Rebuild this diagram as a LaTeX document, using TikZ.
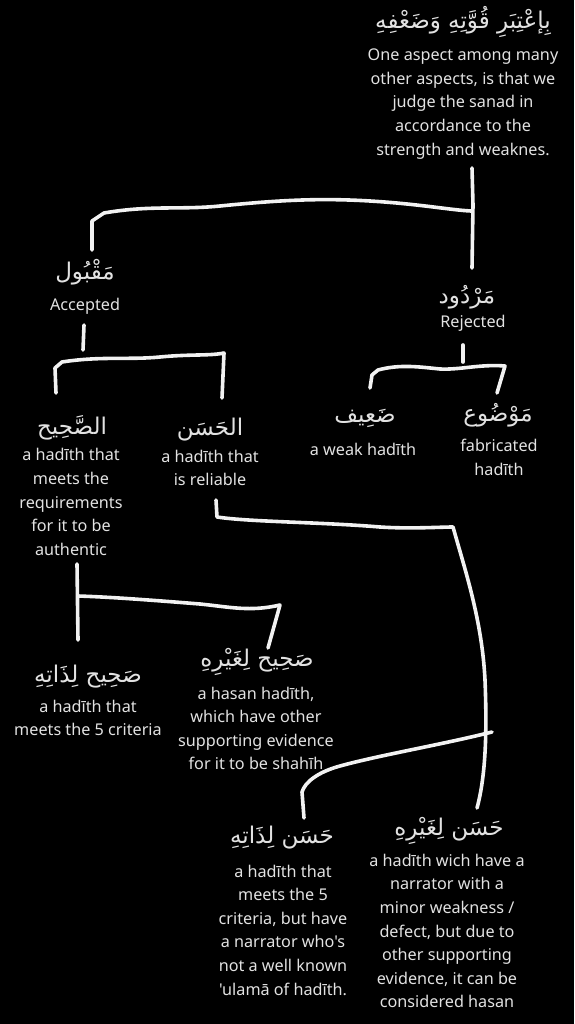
\documentclass[tikz,border=0pt]{standalone}
\usepackage{fontspec}
\setmainfont{Noto Sans}[Ligatures=TeXOff]
\newfontfamily\arabicfont[Script=Arabic]{DejaVu Sans}
\TeXXeTstate=1
\definecolor{txt}{HTML}{E2E2E2}
\definecolor{ink}{HTML}{F2F2F2}
\tikzset{
  desc/.style={text=txt, align=center, font=\fontsize{16.2}{23.6}\selectfont, inner sep=0pt},
  ar/.style={text=txt, font=\arabicfont\fontsize{23}{26}\selectfont, inner sep=0pt},
  hand/.style={draw=ink, line width=3.6pt, line cap=round, line join=round},
}
\begin{document}
\begin{tikzpicture}[x=1pt,y=-1pt]
\fill[black] (0,0) rectangle (574,1024);
\useasboundingbox (0,0) rectangle (574,1024);

% texts
\node[ar] (root) at (463,22) {\beginR بِإعْتِبَرِ قُوَّتِهِ وَضَعْفِهِ\endR};
\node[desc] (rootd) at (463,104) {One aspect among many\\other aspects, is that we\\judge the sanad in\\accordance to the\\strength and weaknes.};

\node[ar] (maq) at (85,272) {\beginR مَقْبُول\endR};
\node[desc] (maqd) at (85,306) {Accepted};
\node[ar] (mar) at (467,297) {\beginR مَرْدُود\endR};
\node[desc] (mard) at (473,323) {Rejected};

\node[ar] (sah) at (72,428) {\beginR الصَّحِيح\endR};
\node[desc] (sahd) at (71,502) {a hadīth that\\meets the\\requirements\\for it to be\\authentic};
\node[ar] (has) at (210,430) {\beginR الحَسَن\endR};
\node[desc] (hasd) at (210,468) {a hadīth that\\is reliable};
\node[ar] (daif) at (365,418) {\beginR ضَعِيف\endR};
\node[desc] (daifd) at (363,449) {a weak hadīth};
\node[ar] (mawd) at (498,415) {\beginR مَوْضُوع\endR};
\node[desc] (mawdd) at (499,457.5) {fabricated\\hadīth};

\node[ar] (sl) at (88,677) {\beginR صَحِيح لِذَاتِهِ\endR};
\node[desc] (sld) at (88,718) {a hadīth that\\meets the 5 criteria};
\node[ar] (sg) at (257,662) {\beginR صَحِيح لِغَيْرِهِ\endR};
\node[desc] (sgd) at (256,728.5) {a hasan hadīth,\\which have other\\supporting evidence\\for it to be shahīh};

\node[ar] (hl) at (282,838) {\beginR حَسَن لِذَاتِهِ\endR};
\node[desc] (hld) at (283,930) {a hadīth that\\meets the 5\\criteria, but have\\a narrator who's\\not a well known\\'ulamā of hadīth.};
\node[ar] (hg) at (449,831) {\beginR حَسَن لِغَيْرِهِ\endR};
\node[desc] (hgd) at (447,931) {a hadīth wich have a\\narrator with a\\minor weakness /\\defect, but due to\\other supporting\\evidence, it can be\\considered hasan};

% hand-drawn connectors
\coordinate (t1) at (472,168);
\coordinate (t2) at (472,268);
\coordinate (tl) at (92,250);
\draw[hand] (t1) -- (473,205) -- (t2);
\draw[hand] (tl) -- (92,221) -- (104,213) .. controls (150,205) and (180,210) .. (220,206) .. controls (280,200) and (320,198) .. (370,201) .. controls (420,204) and (450,210) .. (471,211);

\draw[hand] (84,325) -- (83,350);
\draw[hand] (56,393) -- (55,368) -- (62,362) .. controls (100,356) and (130,360) .. (160,357) .. controls (190,354) and (210,356) .. (224,353) -- (222,398);

\draw[hand] (463,345) -- (463,362);
\draw[hand] (370,388) -- (372,375) -- (378,370) .. controls (400,364) and (420,367) .. (440,369) .. controls (460,370) and (480,364) .. (505,366) -- (497,393);

\draw[hand] (77,564) -- (78,640);
\draw[hand] (78,596) .. controls (110,597) and (150,600) .. (200,604) .. controls (230,607) and (250,612) .. (280,605) -- (268,648);

\draw[hand] (216,500) -- (217,517) .. controls (250,522) and (320,522) .. (380,527) .. controls (410,529) and (440,527) .. (453,527)
  .. controls (465,570) and (482,620) .. (485,680) .. controls (487,730) and (486,775) .. (477,808);
\draw[hand] (492,732) .. controls (440,745) and (380,755) .. (340,766) .. controls (318,772) and (305,782) .. (302,792) -- (304,818);
\end{tikzpicture}
\end{document}
